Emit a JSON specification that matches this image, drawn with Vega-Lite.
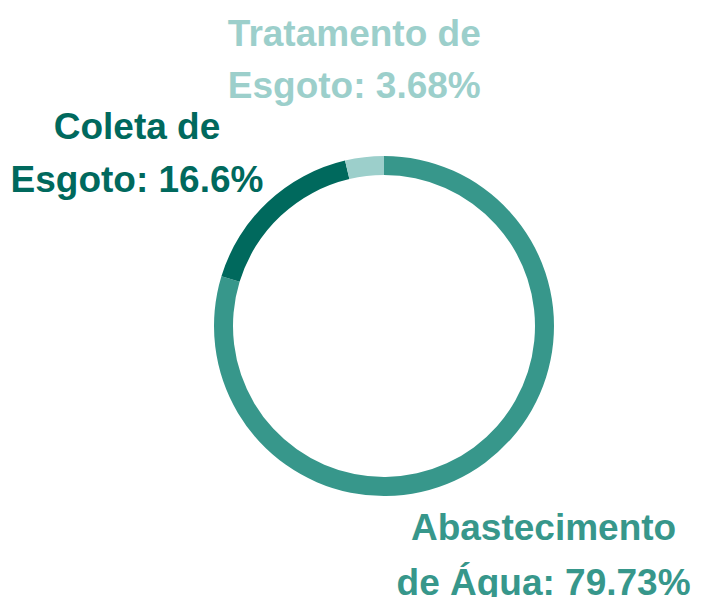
{
  "$schema": "https://vega.github.io/schema/vega-lite/v6.json",
  "width": 642,
  "height": 542,
  "autosize": "none",
  "padding": {"left": 63, "right": 0, "top": 55, "bottom": 0},
  "background": "white",
  "view": {"stroke": null},
  "data": {
    "values": [
      {"categoria": "Abastecimento de Água", "valor": 79.73, "ordem": 1, "rotulo": "Abastecimento \nde Água: 79.73%"},
      {"categoria": "Coleta de Esgoto", "valor": 16.6, "ordem": 2, "rotulo": "Coleta de \nEsgoto: 16.6%"},
      {"categoria": "Tratamento de Esgoto", "valor": 3.68, "ordem": 3, "rotulo": "Tratamento de \nEsgoto: 3.68%"}
    ]
  },
  "encoding": {
    "theta": {"field": "valor", "type": "quantitative", "stack": true},
    "order": {"field": "ordem", "type": "quantitative"},
    "color": {
      "field": "categoria",
      "type": "nominal",
      "scale": {
        "domain": ["Abastecimento de Água", "Coleta de Esgoto", "Tratamento de Esgoto"],
        "range": ["#37978b", "#00695d", "#9ccfcb"]
      },
      "legend": null
    }
  },
  "layer": [
    {"mark": {"type": "arc", "outerRadius": 170, "innerRadius": 151}},
    {
      "mark": {"type": "text", "radius": 275, "dx": 2, "dy": -18, "font": "Liberation Sans", "fontWeight": "bold", "fontSize": 37, "lineBreak": "\n", "lineHeight": 52, "align": "center", "baseline": "middle"},
      "encoding": {
        "text": {"condition": {"test": "datum.categoria === 'Tratamento de Esgoto'", "field": "rotulo"}, "value": ""}
      }
    },
    {
      "mark": {"type": "text", "radius": 275, "dx": -4, "dy": -18, "font": "Liberation Sans", "fontWeight": "bold", "fontSize": 37, "lineBreak": "\n", "lineHeight": 55, "align": "center", "baseline": "middle"},
      "encoding": {
        "text": {"condition": {"test": "datum.categoria === 'Abastecimento de Água'", "field": "rotulo"}, "value": ""}
      }
    },
    {
      "mark": {"type": "text", "radius": 275, "dx": -59, "dy": 3, "font": "Liberation Sans", "fontWeight": "bold", "fontSize": 37, "lineBreak": "\n", "lineHeight": 53, "align": "center", "baseline": "middle"},
      "encoding": {
        "text": {"condition": {"test": "datum.categoria === 'Coleta de Esgoto'", "field": "rotulo"}, "value": ""}
      }
    }
  ]
}
